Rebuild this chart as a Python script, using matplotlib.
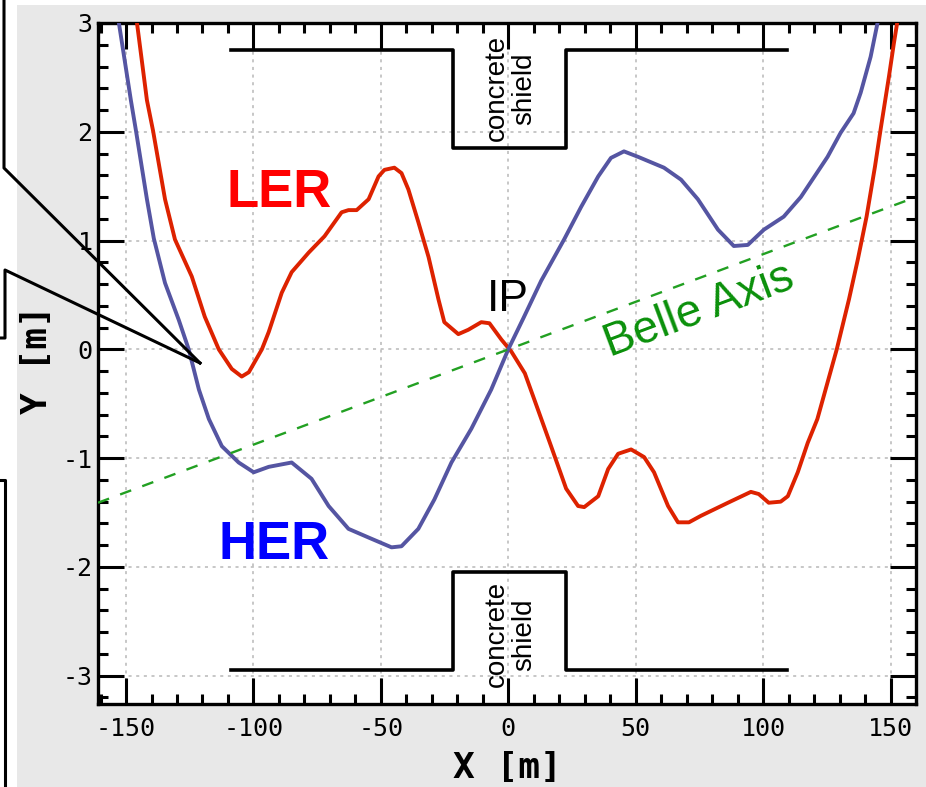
#Program to redraw the HER / LER beam orbit picture around the IP.
import matplotlib
matplotlib.use("Agg")
import matplotlib.pyplot as plt
from matplotlib.lines import Line2D
from matplotlib.patches import Rectangle
from matplotlib.ticker import MultipleLocator

#Beam orbits, x and y in metres.
her_x = [-152.8, -148.1, -146.1, -141.8, -139.1, -134.7, -129.3, -125.4, -121.4, -117.5,
         -112.4, -105.8, -99.9, -94.0, -85.0, -77.2, -70.5, -62.7, -54.8, -45.8,
         -41.9, -35.3, -29.0, -22.3, -14.5, -6.7, 0.0, 6.0, 12.9, 21.9,
         28.6, 35.3, 40.3, 45.4, 50.9, 61.1, 67.8, 74.4, 82.3, 88.5,
         94.0, 100.3, 108.1, 114.8, 125.3, 130.4, 135.5, 138.3, 142.2, 144.9]
her_y = [3.0, 2.29, 2.01, 1.38, 1.02, 0.61, 0.27, 0.0, -0.37, -0.64,
         -0.89, -1.04, -1.13, -1.08, -1.04, -1.19, -1.44, -1.65, -1.73, -1.82,
         -1.81, -1.65, -1.38, -1.04, -0.73, -0.37, 0.0, 0.29, 0.63, 1.01,
         1.31, 1.59, 1.76, 1.82, 1.77, 1.67, 1.56, 1.38, 1.10, 0.95,
         0.96, 1.10, 1.22, 1.40, 1.77, 1.99, 2.17, 2.36, 2.69, 3.0]

ler_x = [-145.7, -141.8, -139.4, -134.7, -130.8, -124.2, -119.1, -113.6, -108.5, -104.6,
         -101.8, -96.7, -94.0, -88.9, -85.0, -78.3, -72.1, -65.4, -62.7, -59.5,
         -54.8, -50.9, -48.6, -44.7, -41.9, -39.2, -35.3, -31.3, -27.4, -25.1,
         -19.6, -15.7, -10.6, -7.4, -2.7, 1.2, 6.5, 10.2, 16.8, 22.7,
         27.4, 29.8, 35.3, 39.2, 43.1, 48.2, 53.3, 57.2, 62.7, 66.6,
         70.9, 75.6, 86.2, 95.2, 98.3, 102.2, 106.9, 109.7, 113.6, 117.5,
         121.3, 128.9, 133.7, 137.2, 140.6, 143.9, 146.1, 149.4, 151.3, 152.6]
ler_y = [3.0, 2.29, 2.01, 1.38, 1.01, 0.67, 0.30, 0.0, -0.18, -0.25,
         -0.21, 0.0, 0.16, 0.52, 0.71, 0.89, 1.04, 1.26, 1.28, 1.28,
         1.38, 1.59, 1.65, 1.67, 1.62, 1.47, 1.17, 0.85, 0.46, 0.25,
         0.14, 0.18, 0.25, 0.24, 0.09, -0.02, -0.22, -0.46, -0.89, -1.28,
         -1.44, -1.45, -1.35, -1.10, -0.96, -0.92, -0.99, -1.13, -1.44, -1.59,
         -1.59, -1.53, -1.41, -1.31, -1.33, -1.41, -1.40, -1.35, -1.13, -0.86,
         -0.64, 0.0, 0.46, 0.83, 1.22, 1.68, 2.02, 2.51, 2.81, 3.0]

#Belle axis and the concrete shield outlines.
belle_x = [-161.0, 160.0]
belle_y = [-1.41, 1.40]
shield_x = [-108.7, -21.8, -21.8, 22.6, 22.6, 109.5]
shield_top_y = [2.75, 2.75, 1.85, 1.85, 2.75, 2.75]
shield_bot_y = [-2.95, -2.95, -2.05, -2.05, -2.95, -2.95]

#Bits of pointer lines left over on the left edge (figure pixels, from top).
pointer_lines = [
    ([4, 4, 200], [0, 168, 363]),
    ([0, 5, 5, 200], [338, 338, 270, 363]),
    ([0, 5, 5], [480, 480, 787]),
]

W, H = 926, 787


def main():
    """Mainline logic for the orbit plot."""
    plt.rcParams['axes.unicode_minus'] = False
    fig = plt.figure(figsize=(W / 100, H / 100), dpi=100, facecolor='white')

    #Gray panel behind the plot.
    fig.patches.append(Rectangle((17 / W, 0), 1, (H - 5) / H, transform=fig.transFigure,
                                 facecolor='#e8e8e8', edgecolor='none', zorder=-5))

    ax = fig.add_axes([98 / W, 1 - 704 / H, (916 - 98) / W, (704 - 23) / H])
    ax.set_facecolor('white')
    ax.set_zorder(1)

    ax.plot(ler_x, ler_y, color='#dd2200', lw=2.8, zorder=3)
    ax.plot(her_x, her_y, color='#5555a2', lw=2.8, zorder=3)
    ax.plot(belle_x, belle_y, color='#22a022', lw=1.7, ls=(0, (5, 5)), zorder=4)
    ax.plot(shield_x, shield_top_y, color='black', lw=2.6, zorder=3)
    ax.plot(shield_x, shield_bot_y, color='black', lw=2.6, zorder=3)

    sans = ['Liberation Sans', 'DejaVu Sans']
    mono = ['DejaVu Sans Mono']
    ax.text(0.9, 2.40, "concrete\nshield", rotation=90, ha='center', va='center',
            multialignment='center', linespacing=1.1, fontsize=20, family=sans, zorder=5)
    ax.text(0.9, -2.62, "concrete\nshield", rotation=90, ha='center', va='center',
            multialignment='center', linespacing=1.1, fontsize=20, family=sans, zorder=5)
    ax.text(-90, 1.44, "LER", color='#ff0000', fontsize=38, fontweight='bold',
            family=sans, ha='center', va='center')
    ax.text(-92, -1.80, "HER", color='#0000ff', fontsize=38, fontweight='bold',
            family=sans, ha='center', va='center')
    ax.text(0, 0.46, "IP", color='black', fontsize=32, family=sans,
            ha='center', va='center')
    ax.text(75, 0.35, "Belle Axis", color='#0a900a', fontsize=33, family=sans,
            rotation=20.5, rotation_mode='anchor', ha='center', va='center')

    #Axes limits, ticks and grid.
    ax.set_xlim(-161, 160)
    ax.set_ylim(-3.26, 3.0)
    ax.xaxis.set_major_locator(MultipleLocator(50))
    ax.xaxis.set_minor_locator(MultipleLocator(10))
    ax.yaxis.set_major_locator(MultipleLocator(1))
    ax.yaxis.set_minor_locator(MultipleLocator(0.2))
    ax.tick_params(which='both', direction='in', top=True, right=True, width=2.2)
    ax.tick_params(which='major', length=19)
    ax.tick_params(which='minor', length=7)
    ax.tick_params(axis='x', pad=9)
    ax.tick_params(axis='y', pad=4)
    for lab in ax.get_xticklabels() + ax.get_yticklabels():
        lab.set_family(mono)
        lab.set_fontsize(18)
    for s in ax.spines.values():
        s.set_linewidth(2.4)
    ax.grid(True, which='major', color='#b8b8b8', ls=(0, (2, 3)), lw=1.1, zorder=1)
    ax.set_axisbelow(True)

    #Axis titles.
    fig.text(507 / W, 1 - 768 / H, "X [m]", family=mono, fontweight='bold', fontsize=26,
             ha='center', va='center')
    fig.text(37 / W, 1 - 360 / H, "Y [m]", family=mono, fontweight='bold', fontsize=26,
             ha='center', va='center', rotation=90)

    #Pointer lines at the left edge, drawn over the axes.
    for px, py in pointer_lines:
        ln = Line2D([v / W for v in px], [1 - v / H for v in py],
                    transform=fig.transFigure, color='black', lw=2.2)
        ln.set_zorder(10)
        fig.add_artist(ln)

    fig.savefig("out.png", dpi=100, facecolor=fig.get_facecolor())


if __name__ == '__main__':
    main()
